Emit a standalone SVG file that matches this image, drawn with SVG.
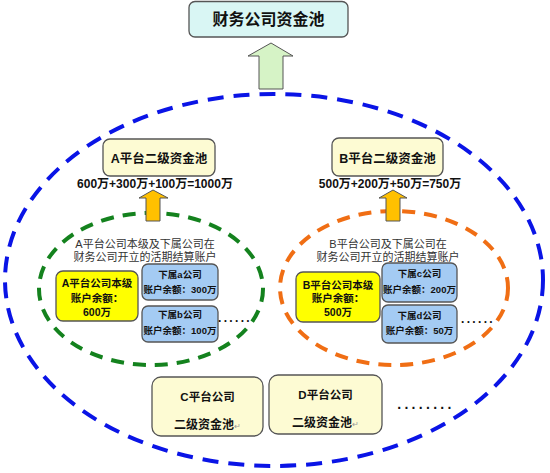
<svg xmlns="http://www.w3.org/2000/svg" width="550" height="473" viewBox="0 0 550 473">
<style>
text{font-family:"Liberation Sans","Noto Sans CJK SC",sans-serif;text-anchor:middle;fill:#111}
.b{font-weight:bold}
.box{stroke:#555;stroke-width:1.3}
.cream{fill:#fdfbd3}
.yel{fill:#ffff00}
.blu{fill:#a4cbf3}
.arr{stroke:#555;stroke-width:1}
.desc{font-size:11px;fill:#333}
.ret{font-size:8px;fill:#999;font-weight:normal}
</style>
<rect width="550" height="473" fill="#fff"/>
<g id="ellipses" fill="none">
<ellipse id="blue-ring" cx="274" cy="280" rx="269" ry="186" stroke="#0a14e6" stroke-width="4" stroke-dasharray="16 10"/>
<ellipse id="green-ring" cx="151" cy="289" rx="112" ry="76" stroke="#14821e" stroke-width="4" stroke-dasharray="13 9"/>
<ellipse id="orange-ring" cx="394" cy="288" rx="114" ry="77" stroke="#f06e14" stroke-width="4" stroke-dasharray="13 9"/>
</g>
<g id="connectors">
<polygon class="arr" fill="#d6f3c6" points="271,43 293,56 283,56 283,89 259,89 259,56 248,56"/>
<polygon class="arr" fill="#ffc000" points="153,190 168,198 160,198 160,221 146,221 146,198 139,198"/>
<polygon class="arr" fill="#ffc000" points="393,190 407,198 400,198 400,221 386,221 386,198 379,198"/>
</g>
<g id="fc-pool">
<rect class="box" x="189" y="1.5" width="159" height="35.5" rx="6" fill="#d9f6f4"/>
<text class="b" x="268.5" y="25" font-size="16">财务公司资金池</text>
</g>
<g id="a-pool">
<rect class="box cream" x="103" y="139" width="112" height="37" rx="7"/>
<text class="b" x="159" y="163" font-size="12.5">A平台二级资金池</text>
<text class="b" x="155" y="187.5" font-size="12">600万+300万+100万=1000万</text>
</g>
<g id="b-pool">
<rect class="box cream" x="332" y="138" width="111" height="38" rx="7"/>
<text class="b" x="387.5" y="162.5" font-size="12.5">B平台二级资金池</text>
<text class="b" x="390" y="187.5" font-size="12">500万+200万+50万=750万</text>
</g>
<g id="a-desc">
<text class="desc" x="145" y="248">A平台公司本级及下属公司在</text>
<text class="desc" x="145" y="260.5">财务公司开立的活期结算账户</text>
</g>
<g id="b-desc">
<text class="desc" x="388" y="248">B平台公司及下属公司在</text>
<text class="desc" x="388" y="260.5">财务公司开立的活期结算账户</text>
</g>
<g id="a-main">
<rect class="box yel" x="56" y="271" width="82" height="50" rx="7"/>
<text class="b" x="97" y="287" font-size="10.5">A平台公司本级</text>
<text class="b" x="97" y="301.5" font-size="10.5">账户余额：</text>
<text class="b" x="97" y="316" font-size="10.5">600万</text>
</g>
<g id="a-sub-a">
<rect class="box blu" x="142" y="264" width="76" height="36" rx="6"/>
<text class="b" x="180" y="277.5" font-size="9.5">下属a公司</text>
<text class="b" x="180" y="292.5" font-size="9.5">账户余额：300万</text>
</g>
<g id="a-sub-b">
<rect class="box blu" x="142" y="306" width="76" height="36" rx="6"/>
<text class="b" x="180" y="318" font-size="9.5">下属b公司</text>
<text class="b" x="180" y="333.5" font-size="9.5">账户余额：100万</text>
</g>
<g id="b-main">
<rect class="box yel" x="296" y="272" width="84" height="50" rx="7"/>
<text class="b" x="338" y="289" font-size="10.5">B平台公司本级</text>
<text class="b" x="338" y="302" font-size="10.5">账户余额：</text>
<text class="b" x="338" y="316" font-size="10.5">500万</text>
</g>
<g id="b-sub-c">
<rect class="box blu" x="382" y="263" width="75" height="39" rx="6"/>
<text class="b" x="419.5" y="276.5" font-size="9.5">下属c公司</text>
<text class="b" x="419.5" y="292.5" font-size="9.5">账户余额：200万</text>
</g>
<g id="b-sub-d">
<rect class="box blu" x="382" y="305" width="75" height="38" rx="6"/>
<text class="b" x="419.5" y="318.5" font-size="9.5">下属d公司</text>
<text class="b" x="419.5" y="333.5" font-size="9.5">账户余额：50万</text>
</g>
<g id="c-pool">
<rect class="box cream" x="152" y="377" width="111" height="59" rx="9"/>
<text class="b" x="207.5" y="401" font-size="11.5">C平台公司</text>
<text class="b" x="207.5" y="429" font-size="12">二级资金池<tspan class="ret">↵</tspan></text>
</g>
<g id="d-pool">
<rect class="box cream" x="269" y="375" width="113" height="59" rx="9"/>
<text class="b" x="325.5" y="399" font-size="11.5">D平台公司</text>
<text class="b" x="325.5" y="427" font-size="12">二级资金池<tspan class="ret">↵</tspan></text>
</g>
<g id="dots" class="b">
<text x="235" y="322" font-size="12" letter-spacing="2.3">......</text>
<text x="478" y="323" font-size="12" letter-spacing="2.3">......</text>
<text x="426" y="409" font-size="14" letter-spacing="3.3">........</text>
</g>
</svg>
